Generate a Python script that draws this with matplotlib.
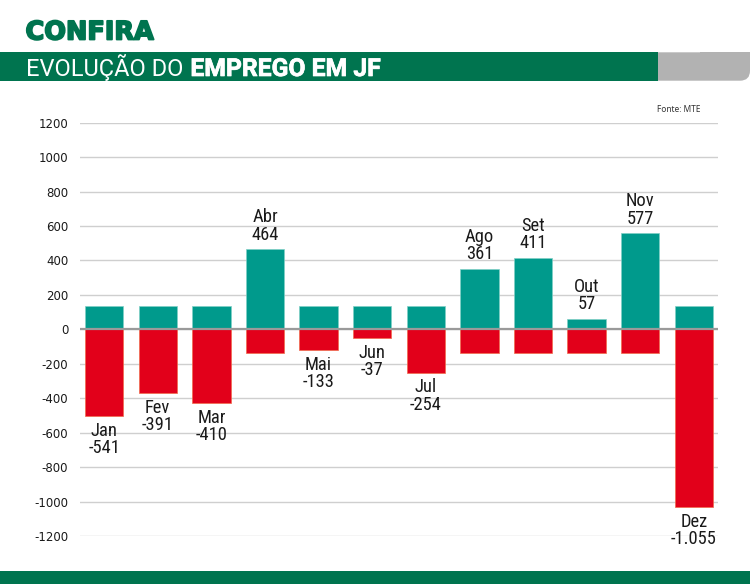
import matplotlib
matplotlib.use("Agg")
import matplotlib.pyplot as plt
from matplotlib.patches import Rectangle, FancyBboxPatch
import matplotlib.patheffects as pe
import numpy as np

# ---- data ----
months = ['Jan', 'Fev', 'Mar', 'Abr', 'Mai', 'Jun', 'Jul', 'Ago', 'Set', 'Out', 'Nov', 'Dez']
value_labels = ['-541', '-391', '-410', '464', '-133', '-37', '-254', '361', '411', '57', '577', '-1.055']
green_heights = [137, 137, 137, 465, 137, 137, 137, 352, 416, 60, 558, 137]
red_heights = [-504, -370, -430, -136, -120, -51, -252, -136, -136, -136, -136, -1033]
y_ticks = [1200, 1000, 800, 600, 400, 200, 0, -200, -400, -600, -800, -1000, -1200]
positive_month = [False, False, False, True, False, False, False, True, True, True, True, False]

GREEN_HEAD = '#00744F'
TEAL = '#009A8C'
RED = '#E2001A'
GRAY = '#B2B2B2'

W, H = 750, 584
fig = plt.figure(figsize=(W / 100, H / 100), dpi=100)
fig.patch.set_facecolor('white')

# ---- header / decoration layer in pixel coordinates ----
bg = fig.add_axes([0, 0, 1, 1])
bg.set_xlim(0, W)
bg.set_ylim(H, 0)
bg.axis('off')

# gray part with rounded bottom-right corner
bg.add_patch(FancyBboxPatch((630, 52.3), 120, 28.4,
                            boxstyle='round,pad=0,rounding_size=10',
                            facecolor=GRAY, edgecolor='none'))
bg.add_patch(Rectangle((700, 52.3), 50, 14, facecolor=GRAY, edgecolor='none'))
bg.add_patch(Rectangle((0, 52.3), 657.5, 28.4, facecolor=GREEN_HEAD, edgecolor='none'))
# bottom stripe
bg.add_patch(Rectangle((0, 571), W, 13, facecolor=GREEN_HEAD, edgecolor='none'))

bg.text(25.5, 39.5, 'CONFIRA', fontsize=18.4, fontweight='bold', family=['DejaVu Sans'],
        color=GREEN_HEAD, va='baseline', ha='left',
        path_effects=[pe.withStroke(linewidth=1.3, foreground=GREEN_HEAD)])
t1 = bg.text(26, 76, 'EVOLUÇÃO DO', fontsize=17, family=['Roboto', 'DejaVu Sans'],
             color='white', va='baseline', ha='left')
fig.canvas.draw()
ext = t1.get_window_extent(renderer=fig.canvas.get_renderer())
x_end = bg.transData.inverted().transform((ext.x1, ext.y0))[0]
bg.text(x_end + 7, 76, 'EMPREGO EM JF', fontsize=17.8, fontweight='bold',
        family=['Roboto', 'DejaVu Sans'], color='white', va='baseline', ha='left',
        path_effects=[pe.withStroke(linewidth=0.5, foreground='white')])
bg.text(657, 112.5, 'Fonte: MTE', fontsize=6, family=['Noto Sans', 'DejaVu Sans'],
        color='#333333', va='baseline', ha='left')

# ---- chart ----
ax = fig.add_axes([80 / W, 1 - 536 / H, 638 / W, (536 - 122.7) / H])
ax.set_facecolor('none')
x = np.arange(len(months))
bw = 0.715
ax.bar(x, green_heights, width=bw, color=TEAL, edgecolor='#7FCFC5', linewidth=0.5, zorder=2)
ax.bar(x, red_heights, width=bw, color=RED, edgecolor='#F06A4A', linewidth=0.5, zorder=2)

ax.set_xlim(-0.45, len(months) - 1 + 0.45)
ax.set_ylim(-1200, 1200)
ax.set_yticks(y_ticks)
ax.set_yticklabels([str(v) for v in y_ticks])
ax.set_xticks([])
for s in ax.spines.values():
    s.set_visible(False)
ax.tick_params(axis='y', length=0, pad=8.5, labelsize=8.5, labelcolor='#1a1a1a')
for lab in ax.get_yticklabels():
    lab.set_family(['DejaVu Sans'])
ax.grid(axis='y', color='#CFCFCF', linewidth=1.0, zorder=0)
ax.axhline(0, color='#9A9A9A', linewidth=1.6, zorder=3)

label_font = ['Liberation Sans Narrow', 'Roboto Condensed', 'DejaVu Sans Condensed', 'Liberation Sans', 'DejaVu Sans']
for i, m in enumerate(months):
    txt = f'{m}\n{value_labels[i]}'
    if positive_month[i]:
        ax.annotate(txt, xy=(x[i], green_heights[i]), xytext=(0, 4), textcoords='offset points',
                    ha='center', va='bottom', multialignment='center', fontsize=13.3,
                    family=label_font, color='#1a1a1a', linespacing=0.95, annotation_clip=False)
    else:
        ax.annotate(txt, xy=(x[i], red_heights[i]), xytext=(0, -4), textcoords='offset points',
                    ha='center', va='top', multialignment='center', fontsize=13.3,
                    family=label_font, color='#1a1a1a', linespacing=0.95, annotation_clip=False)

fig.savefig('out.png', dpi=100, facecolor='white')
